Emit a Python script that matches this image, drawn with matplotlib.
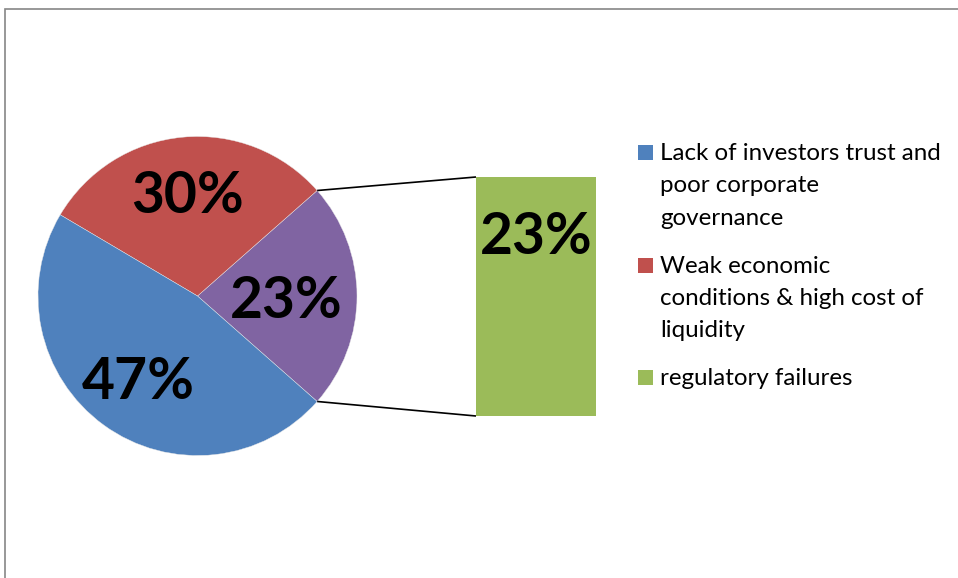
import matplotlib
matplotlib.use("Agg")
import matplotlib.pyplot as plt
from matplotlib.patches import Rectangle
import numpy as np

# ---- data ----
pie_labels = ["Lack of investors trust and\npoor corporate\ngovernance",
              "Weak economic\nconditions & high cost of\nliquidity"]
pie_values = [47, 30]
pie_texts = ["47%", "30%"]
bar_labels = ["regulatory failures"]
bar_values = [23]
bar_texts = ["23%"]
other_text = "23%"

colors_pie = ["#4F81BD", "#C0504D"]
other_color = "#8064A2"
colors_bar = ["#9BBB59"]

W, H = 958, 578
fig = plt.figure(figsize=(W / 100, H / 100), dpi=100)
ax = fig.add_axes([0, 0, 1, 1])

other_total = sum(bar_values)
total = sum(pie_values) + other_total
half = other_total / total * 180.0

cx, cy, r = 197.5, H - 296, 159.5
wedges, _ = ax.pie([other_total] + pie_values[::-1],
                   colors=[other_color] + colors_pie[::-1],
                   startangle=-half, counterclock=True,
                   center=(cx, cy), radius=r,
                   wedgeprops=dict(linewidth=0.3, edgecolor="#e8e8e8"))

label_font = dict(fontsize=41, fontweight="bold", family=["Lato", "DejaVu Sans"])
dists = [0.555, 0.657, 0.633]
for w, t, d in zip(wedges, [other_text] + pie_texts[::-1], dists):
    th = np.deg2rad((w.theta1 + w.theta2) / 2)
    ax.text(cx + d * r * np.cos(th), cy + d * r * np.sin(th), t,
            ha="center", va="center_baseline", **label_font)

# ---- bar of the "other" slice ----
bx0, by0, bx1, by1 = 476, 177, 596, 416
bax = fig.add_axes([bx0 / W, (H - by1) / H, (bx1 - bx0) / W, (by1 - by0) / H])
bottom = 0
for v, c, t in zip(bar_values, colors_bar, bar_texts):
    bax.bar(0, v, bottom=bottom, width=1, color=c, linewidth=0)
    bax.text(0, bottom + v * (1 - 55 / 239), t, ha="center",
             va="center_baseline", **label_font)
    bottom += v
bax.set_xlim(-0.5, 0.5)
bax.set_ylim(0, other_total)
bax.axis("off")

# connector lines
a = np.deg2rad(half)
ax.plot([cx + r * np.cos(a), bx0], [cy + r * np.sin(a), H - by0],
        color="black", lw=1.2, solid_capstyle="butt")
ax.plot([cx + r * np.cos(-a), bx0], [cy + r * np.sin(-a), H - by1],
        color="black", lw=1.2, solid_capstyle="butt")

# ---- legend ----
leg_font = dict(fontsize=17.4, family=["Lato", "DejaVu Sans"], color="black")
y = 160.0
step = 32.3
for lab, col in zip(pie_labels + bar_labels, colors_pie + colors_bar):
    lines = lab.split("\n")
    ax.add_patch(Rectangle((638.3, H - y), 14.5, 15, facecolor=col,
                           edgecolor="none"))
    for i, ln in enumerate(lines):
        ax.text(660, H - (y + i * step), ln, ha="left", va="baseline",
                **leg_font)
    y += (len(lines) - 1) * step + 48

# chart frame (only top and left edges visible)
ax.add_patch(Rectangle((5, -20), W + 40, H - 8.5 + 20, fill=False,
                       edgecolor="#868686", lw=1.2))

ax.set_xlim(0, W)
ax.set_ylim(0, H)
ax.axis("off")

fig.savefig("out.png", dpi=100)
